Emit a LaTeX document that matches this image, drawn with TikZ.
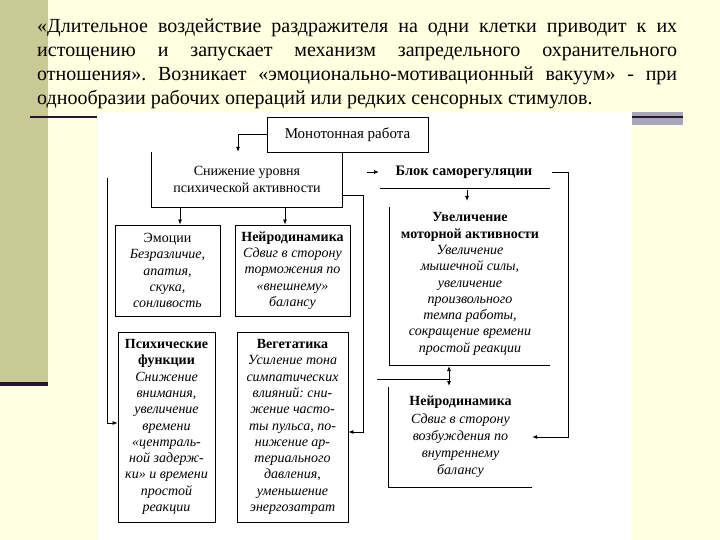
\documentclass[tikz,border=0pt]{standalone}
\usepackage{fontspec}
\setmainfont{Liberation Serif}
\usetikzlibrary{arrows.meta}
\definecolor{bg}{HTML}{FFFFE1}
\definecolor{olivestrip}{HTML}{C9C996}
\definecolor{darkline}{HTML}{2A1530}
\definecolor{lavbar}{HTML}{A9A6BA}
\begin{document}
\frenchspacing
\begin{tikzpicture}[x=1pt,y=-1pt,
  arr/.style={-{Latex[length=5pt,width=4pt]}, line width=0.8pt},
  dblarr/.style={{Latex[length=5pt,width=4pt]}-{Latex[length=5pt,width=4pt]}, line width=0.8pt},
  ln/.style={line width=0.8pt},
  boxt/.style={align=center, inner sep=0pt, font=\fontsize{14}{16.3}\selectfont},
  framed/.style={draw, line width=0.8pt}]
\useasboundingbox (0,0) rectangle (720,540);
\fill[bg] (0,0) rectangle (720,540);
\fill[olivestrip] (0,0) rectangle (48,382);
\fill[darkline] (0,382) rectangle (48,386);
\fill[white] (97,112) rectangle (632,540);
\fill[lavbar] (632,112) rectangle (683,125);
\fill[darkline] (632,116.5) rectangle (683,118.5);
\fill[darkline] (30,116) rectangle (97,118.5);

\node[anchor=north west, inner sep=0pt, text width=640pt, align=justify,
  font=\fontsize{20}{24}\selectfont] (title) at (37,19)
  {«Длительное воздействие раздражителя на одни клетки приводит к их\linebreak
   истощению и запускает механизм запредельного охранительного\linebreak
   отношения». Возникает «эмоционально-мотивационный вакуум» - при\linebreak
   однообразии рабочих операций или редких сенсорных стимулов.};

\node[boxt, framed, font=\fontsize{15}{16}\selectfont, minimum width=161pt, minimum height=35pt] (mono) at (347.5,134.5) {Монотонная работа};
\node[boxt, minimum width=190pt, minimum height=55pt] (sn) at (247,179.5) {Снижение уровня\\психической активности};
\node[boxt, framed, minimum width=105pt, minimum height=91pt] (emo) at (167.5,270.5)
  {Эмоции\\\textit{Безразличие,}\\\textit{апатия,}\\\textit{скука,}\\\textit{сонливость}};
\node[boxt, framed, minimum width=115pt, minimum height=91pt] (nl) at (292.5,270.5)
  {\textbf{Нейродинамика}\\\textit{Сдвиг в сторону}\\\textit{торможения по}\\\textit{«внешнему»}\\\textit{балансу}};
\node[boxt, framed, minimum width=97pt, minimum height=190pt] (psy) at (166.5,427)
  {\textbf{Психические}\\\textbf{функции}\\\textit{Снижение}\\\textit{внимания,}\\\textit{увеличение}\\\textit{времени}\\\textit{«централь-}\\\textit{ной задерж-}\\\textit{ки» и времени}\\\textit{простой}\\\textit{реакции}};
\node[boxt, framed, minimum width=111pt, minimum height=190pt] (veg) at (292.5,427)
  {\textbf{Вегетатика}\\\textit{Усиление тона}\\\textit{симпатических}\\\textit{влияний: сни-}\\\textit{жение часто-}\\\textit{ты пульса, по-}\\\textit{нижение ар-}\\\textit{териального}\\\textit{давления,}\\\textit{уменьшение}\\\textit{энергозатрат}};
\node[boxt, font=\fontsize{14.5}{16}\selectfont\bfseries] (blk) at (464,172) {Блок саморегуляции};
\node[boxt] (uv) at (470,284)
  {\textbf{Увеличение}\\\textbf{моторной активности}\\\textit{Увеличение}\\\textit{мышечной силы,}\\\textit{увеличение}\\\textit{произвольного}\\\textit{темпа работы,}\\\textit{сокращение времени}\\\textit{простой реакции}};
\node[boxt, font=\fontsize{14}{17.2}\selectfont, minimum width=143pt, minimum height=100pt] (nr) at (460.5,437)
  {\textbf{Нейродинамика}\\\textit{Сдвиг в сторону}\\\textit{возбуждения по}\\\textit{внутреннему}\\\textit{балансу}};

% partial frames
\draw[ln] (sn.north west) -- (sn.south west) -- (sn.south east) -- (sn.north east);
\draw[ln] (380,188) -- (550,188);
\draw[ln] (389,207) -- (389,365) -- (550,365);
\draw[ln] (nr.north west) -- (nr.south west) -- (nr.south east);

% connectors
\draw[arr] (mono.west) -| (sn.north -| 238,0);
\draw[arr] (sn.south -| 180,0) -- (emo.north -| 180,0);
\draw[arr] (sn.south -| 285,0) -- (nl.north -| 285,0);
\draw[arr] (sn.east |- 0,195) -| (363,432) -- (veg.east |- 0,432);
\coordinate (lstart) at (107,178);
\draw[arr] (lstart) |- (psy.west |- 0,423);
\coordinate (bin) at (367,172);
\draw[arr] (bin) -- (379,172);
\draw[arr] (467,190) -- (467,201);
\draw[arr] (552,172) -| (568,437) -- (nr.east);
\draw[dblarr] (449,366) -- (449,386);
\draw[ln] (377,379) -- (449,379);
\end{tikzpicture}
\end{document}
